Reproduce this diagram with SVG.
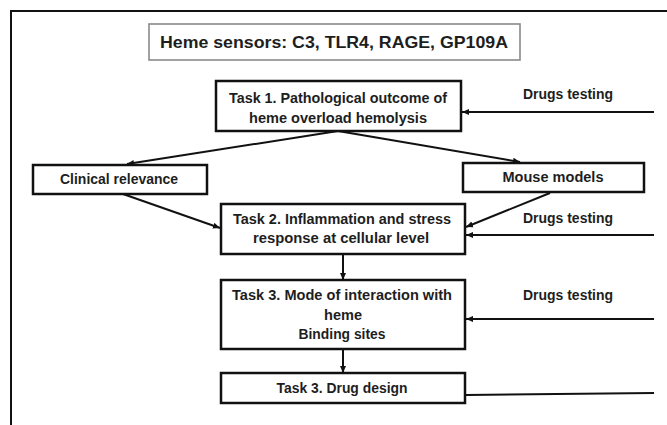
<svg xmlns="http://www.w3.org/2000/svg" width="667" height="425" viewBox="0 0 667 425">
<style>
.box{fill:#fff;stroke:#111;stroke-width:2.5}
.hbox{fill:#fff;stroke:#8a8a8a;stroke-width:1.6}
.t{font-family:"Liberation Sans",Arial,sans-serif;font-weight:bold;font-size:14px;fill:#1e1e1e;text-anchor:middle}
.h{font-size:16.5px}
.c{fill:none;stroke:#111;stroke-width:2}
</style>
<defs>
<marker id="ah" markerUnits="userSpaceOnUse" markerWidth="8" markerHeight="8" refX="7" refY="4" orient="auto">
<path d="M0,1 L7,4 L0,7 Z" fill="#111"/>
</marker>
</defs>
<rect width="667" height="425" fill="#fff"/>
<path d="M11,425 L11,11 L667,11" fill="none" stroke="#111" stroke-width="2"/>
<g id="heme">
<rect class="hbox" x="149" y="24" width="371" height="36"/>
<text class="t h" x="334" y="48" textLength="348" lengthAdjust="spacingAndGlyphs">Heme sensors: C3, TLR4, RAGE, GP109A</text>
</g>
<g id="task1">
<rect class="box" x="216" y="81" width="245" height="50"/>
<text class="t" x="338" y="103" textLength="218" lengthAdjust="spacingAndGlyphs">Task 1. Pathological outcome of</text>
<text class="t" x="338" y="123" textLength="178" lengthAdjust="spacingAndGlyphs">heme overload hemolysis</text>
</g>
<g id="clinical">
<rect class="box" x="33" y="165" width="174" height="29"/>
<text class="t" x="119" y="184" textLength="118" lengthAdjust="spacingAndGlyphs">Clinical relevance</text>
</g>
<g id="mouse">
<rect class="box" x="463" y="163" width="181" height="29"/>
<text class="t" x="553" y="182" textLength="101" lengthAdjust="spacingAndGlyphs">Mouse models</text>
</g>
<g id="task2">
<rect class="box" x="221" y="204" width="244" height="50"/>
<text class="t" x="342" y="224" textLength="218" lengthAdjust="spacingAndGlyphs">Task 2. Inflammation and stress</text>
<text class="t" x="341" y="243" textLength="176" lengthAdjust="spacingAndGlyphs">response at cellular level</text>
</g>
<g id="task3">
<rect class="box" x="221" y="280" width="244" height="69"/>
<text class="t" x="342" y="300" textLength="220" lengthAdjust="spacingAndGlyphs">Task 3. Mode of interaction with</text>
<text class="t" x="343" y="320" textLength="38" lengthAdjust="spacingAndGlyphs">heme</text>
<text class="t" x="342" y="339" textLength="87" lengthAdjust="spacingAndGlyphs">Binding sites</text>
</g>
<g id="drugdesign">
<rect class="box" x="221" y="373" width="244" height="30"/>
<text class="t" x="342" y="393" textLength="131" lengthAdjust="spacingAndGlyphs">Task 3. Drug design</text>
</g>
<g id="labels">
<text class="t" x="568" y="99" textLength="90" lengthAdjust="spacingAndGlyphs">Drugs testing</text>
<text class="t" x="568" y="223" textLength="90" lengthAdjust="spacingAndGlyphs">Drugs testing</text>
<text class="t" x="568" y="300" textLength="90" lengthAdjust="spacingAndGlyphs">Drugs testing</text>
</g>
<g id="connectors">
<line class="c" x1="338" y1="131" x2="127" y2="164" marker-end="url(#ah)"/>
<line class="c" x1="338" y1="131" x2="520" y2="162" marker-end="url(#ah)"/>
<line class="c" x1="123" y1="194" x2="220" y2="228" marker-end="url(#ah)"/>
<line class="c" x1="550" y1="193" x2="466" y2="227" marker-end="url(#ah)"/>
<line class="c" x1="654" y1="112" x2="462" y2="112" marker-end="url(#ah)"/>
<line class="c" x1="654" y1="235" x2="466" y2="235" marker-end="url(#ah)"/>
<line class="c" x1="343" y1="254" x2="343" y2="280" marker-end="url(#ah)"/>
<line class="c" x1="654" y1="319" x2="466" y2="319" marker-end="url(#ah)"/>
<line class="c" x1="343" y1="349" x2="343" y2="373" marker-end="url(#ah)"/>
<line class="c" x1="466" y1="395" x2="654" y2="393"/>
</g>
</svg>
